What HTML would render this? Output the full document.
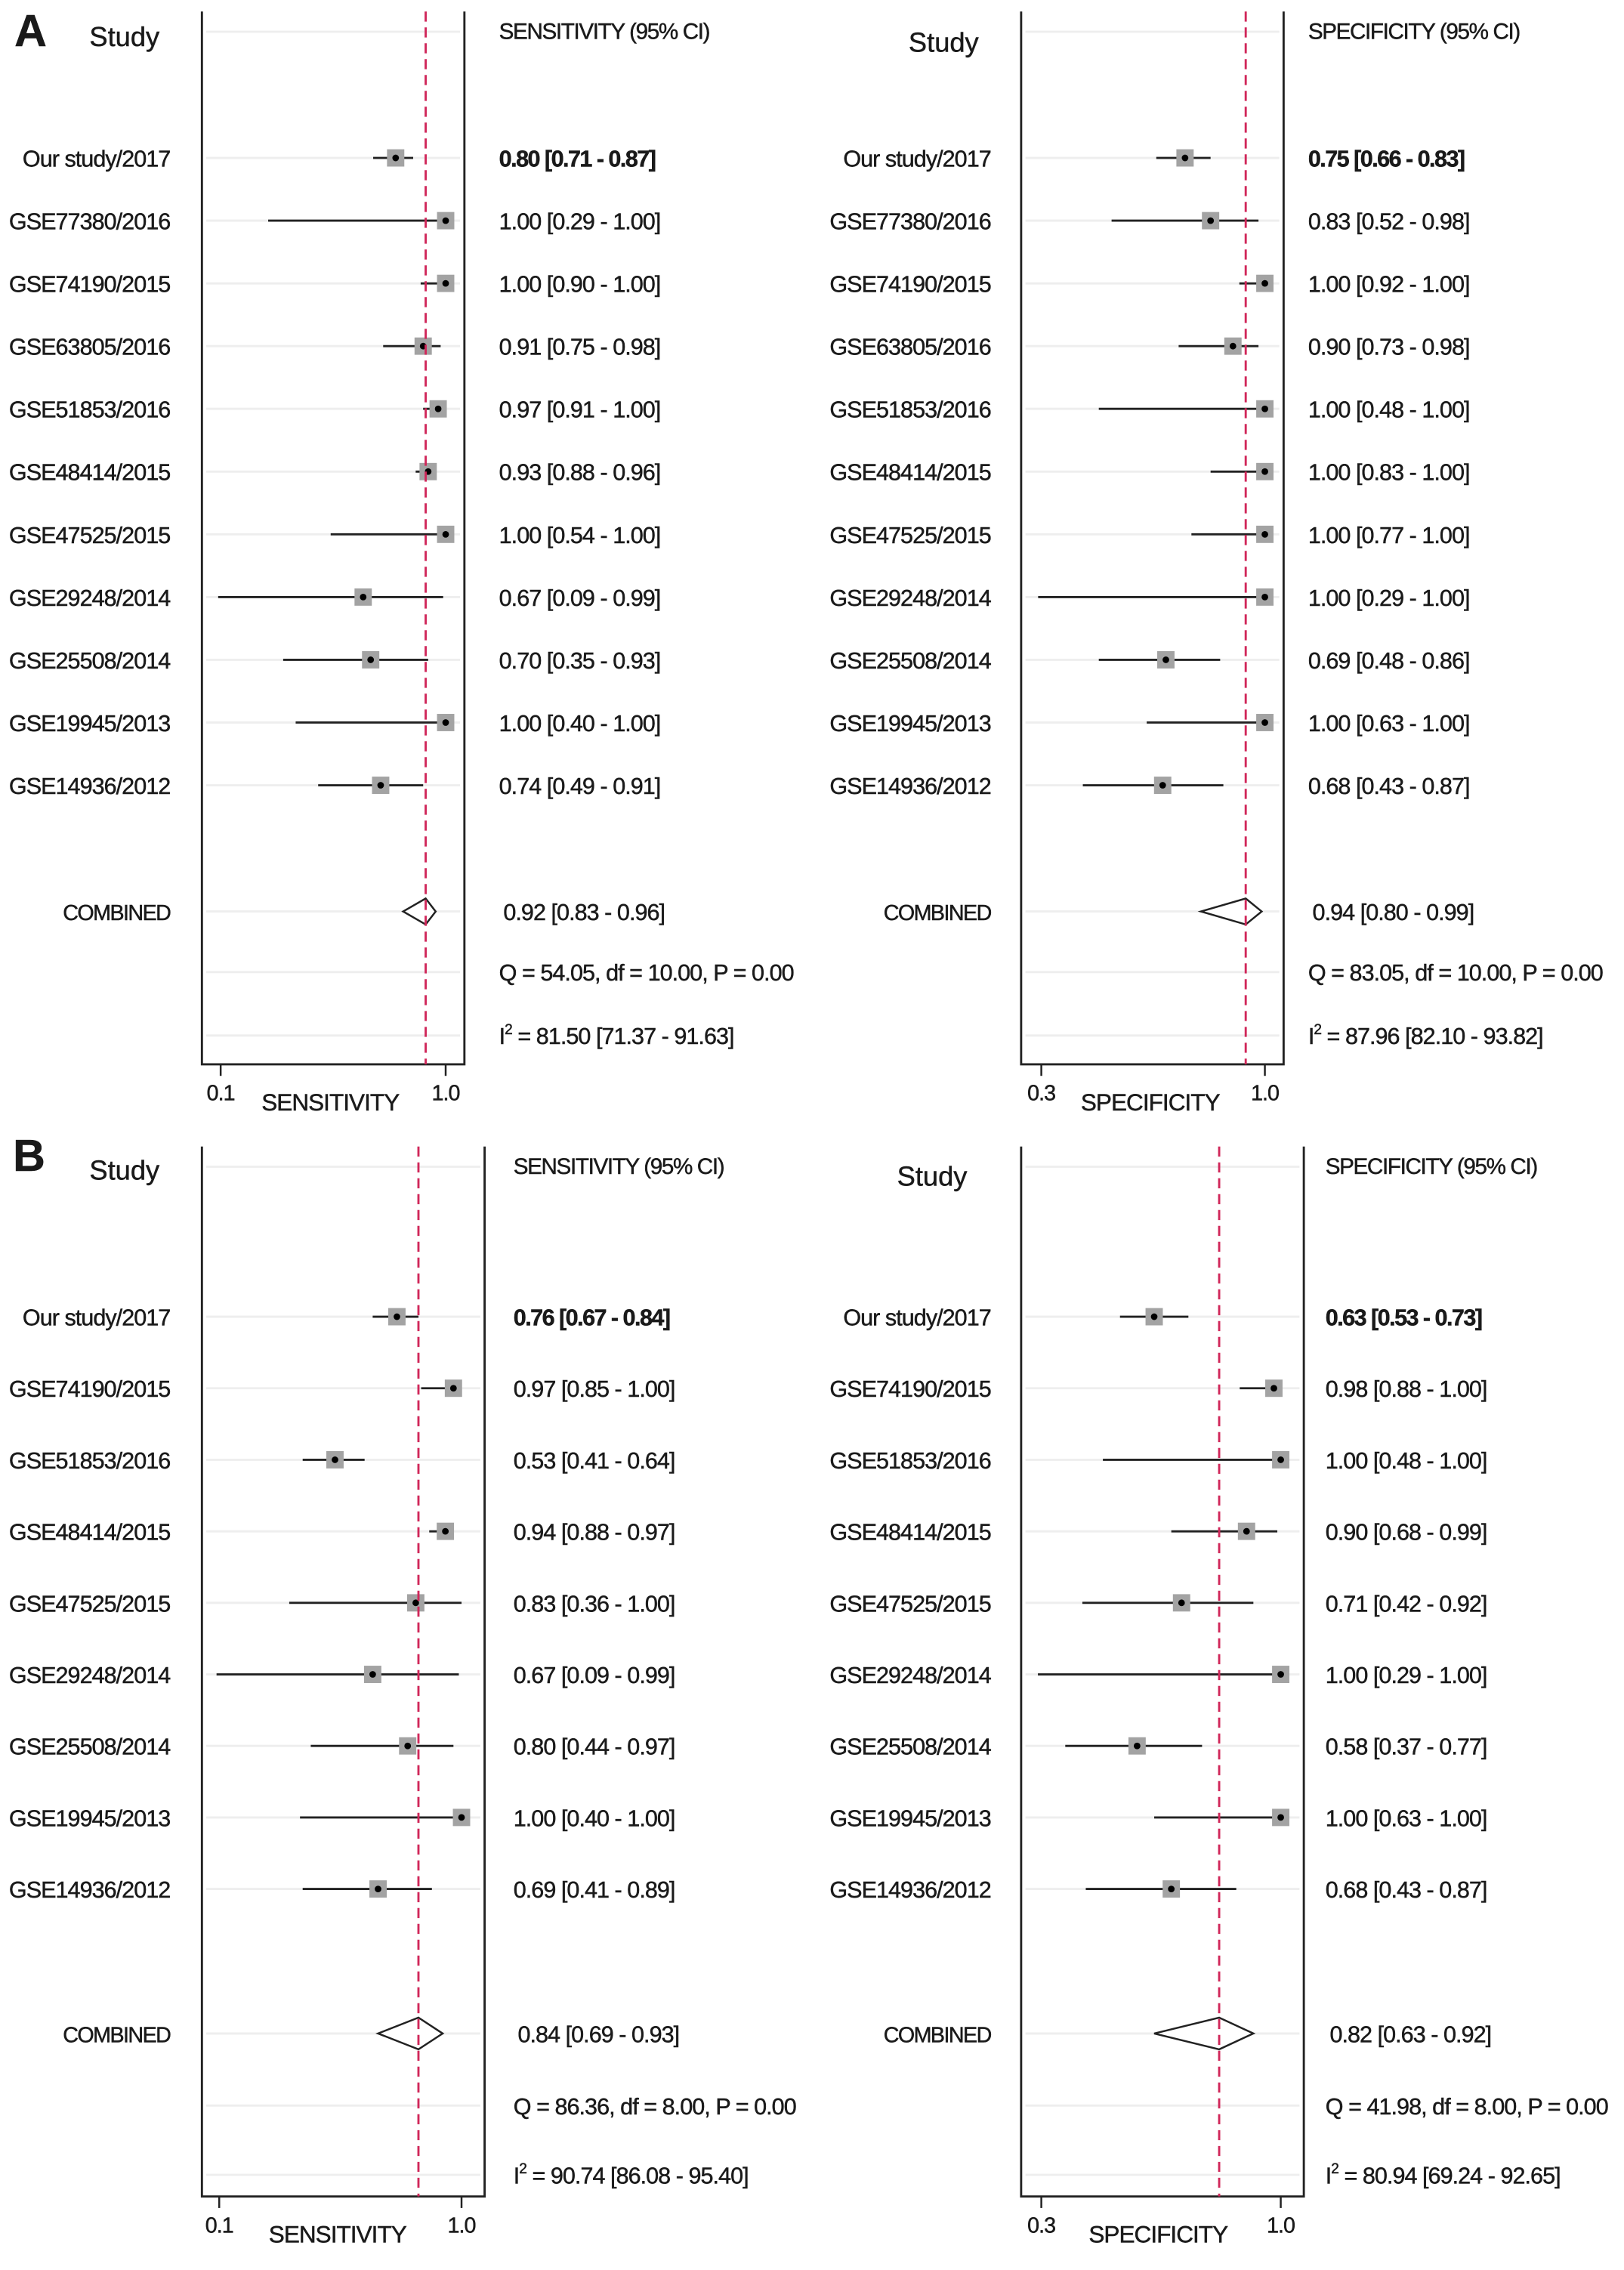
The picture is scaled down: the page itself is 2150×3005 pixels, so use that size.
<!DOCTYPE html>
<html><head><meta charset="utf-8"><style>
html,body{margin:0;padding:0;background:#fff}
svg{display:block}
text{font-family:"Liberation Sans",Arial,sans-serif;fill:#1a1a1a;stroke:#1a1a1a;stroke-width:0.25}
</style></head><body>
<svg id="fig" width="2150" height="3005" viewBox="0 0 1126 1574" preserveAspectRatio="none" xmlns="http://www.w3.org/2000/svg"></svg>
<script>
const studiesA = ["Our study/2017","GSE77380/2016","GSE74190/2015","GSE63805/2016","GSE51853/2016","GSE48414/2015","GSE47525/2015","GSE29248/2014","GSE25508/2014","GSE19945/2013","GSE14936/2012"];
const sensA = [0.80,1.00,1.00,0.91,0.97,0.93,1.00,0.67,0.70,1.00,0.74];
const sensALo = [0.71,0.29,0.90,0.75,0.91,0.88,0.54,0.09,0.35,0.40,0.49];
const sensAHi = [0.87,1.00,1.00,0.98,1.00,0.96,1.00,0.99,0.93,1.00,0.91];
const specA = [0.75,0.83,1.00,0.90,1.00,1.00,1.00,1.00,0.69,1.00,0.68];
const specALo = [0.66,0.52,0.92,0.73,0.48,0.83,0.77,0.29,0.48,0.63,0.43];
const specAHi = [0.83,0.98,1.00,0.98,1.00,1.00,1.00,1.00,0.86,1.00,0.87];
const combSensA = [0.92,0.83,0.96];
const combSpecA = [0.94,0.80,0.99];
const studiesB = ["Our study/2017","GSE74190/2015","GSE51853/2016","GSE48414/2015","GSE47525/2015","GSE29248/2014","GSE25508/2014","GSE19945/2013","GSE14936/2012"];
const sensB = [0.76,0.97,0.53,0.94,0.83,0.67,0.80,1.00,0.69];
const sensBLo = [0.67,0.85,0.41,0.88,0.36,0.09,0.44,0.40,0.41];
const sensBHi = [0.84,1.00,0.64,0.97,1.00,0.99,0.97,1.00,0.89];
const specB = [0.63,0.98,1.00,0.90,0.71,1.00,0.58,1.00,0.68];
const specBLo = [0.53,0.88,0.48,0.68,0.42,0.29,0.37,0.63,0.43];
const specBHi = [0.73,1.00,1.00,0.99,0.92,1.00,0.77,1.00,0.87];
const combSensB = [0.84,0.69,0.93];
const combSpecB = [0.82,0.63,0.92];
const statsText = ["Q = 54.05, df = 10.00, P = 0.00","Q = 83.05, df = 10.00, P = 0.00","Q = 86.36, df = 8.00, P = 0.00","Q = 41.98, df = 8.00, P = 0.00"];
const i2Text = ["= 81.50 [71.37 - 91.63]","= 87.96 [82.10 - 93.82]","= 90.74 [86.08 - 95.40]","= 80.94 [69.24 - 92.65]"];
const tickLabelsSens = ["0.1","1.0"];
const tickLabelsSpec = ["0.3","1.0"];

const NS="http://www.w3.org/2000/svg";
const svg=document.getElementById('fig');
function mk(tag,attrs,parent){const e=document.createElementNS(NS,tag);for(const k in attrs)e.setAttribute(k,attrs[k]);(parent||svg).appendChild(e);return e;}
function txt(s,x,y,opts,parent){const t=mk('text',Object.assign({x:x,y:y,'font-size':16,'letter-spacing':'-0.5'},opts||{}),parent);t.textContent=s;return t;}
const f2=v=>v.toFixed(2);

function panel(o){
  const g=mk('g',{});
  
  
  const sx=v=>o.x0+(v-o.v0)/(o.v1-o.v0)*(o.x1-o.x0);
  const rowY=i=>o.rowTop+i*o.rowStep;
  const gl=[o.top+14].concat(o.studies.map((s,i)=>rowY(i)),[o.combY,o.qY,o.iY]);
  gl.forEach(y=>{const l=mk('line',{x1:o.left+3,x2:o.right-3,y1:y,y2:y,stroke:'#eeeeee','stroke-width':1.5},g);
    });
  const box=mk('path',{d:`M${o.left},${o.top}V${o.bottom}H${o.right}V${o.top}`,fill:'none',stroke:'#222','stroke-width':1.5},g);
  
  [o.v0,o.v1].forEach((v,k)=>{
    const t=mk('line',{x1:sx(v),x2:sx(v),y1:o.bottom,y2:o.bottom+8,stroke:'#222','stroke-width':1.3},g);
    
    const tl=txt(o.ticks[k],sx(v),o.bottom+25,{'text-anchor':'middle','font-size':15},g);
    
  });
  const at=txt(o.axisTitle,(sx(o.v0)+sx(o.v1))/2-2,o.bottom+32,{'text-anchor':'middle','font-size':16.5},g);
  
  const st=txt('Study',o.studyX,o.studyY,{'font-size':19,'letter-spacing':'0'},g);
  
  const hd=txt(o.header,o.valX,o.top+19,{'font-size':15.5,'letter-spacing':'-0.7'},g);
  
  o.studies.forEach((s,i)=>{
    const y=rowY(i);
    const lb=txt(s,o.labelX,y+6,{'text-anchor':'end'},g);
    
    const ci=mk('line',{x1:sx(o.lo[i]),x2:sx(o.hi[i]),y1:y,y2:y,stroke:'#222','stroke-width':1.5},g);
    
    const sz=12;
    const sq=mk('rect',{x:sx(o.est[i])-sz/2,y:y-sz/2,width:sz,height:sz,fill:'#a3a3a3'},g);
    
    const dt=mk('circle',{cx:sx(o.est[i]),cy:y,r:2.3,fill:'#000'},g);
    
    const vt=txt(`${f2(o.est[i])} [${f2(o.lo[i])} - ${f2(o.hi[i])}]`,o.valX,y+6,{'font-weight':i===0?'bold':'normal','letter-spacing':i===0?'-0.8':'-0.5'},g);
    
  });
  const c=o.comb, cy=o.combY, h=o.diaH;
  const cl=txt('COMBINED',o.labelX,cy+6,{'text-anchor':'end','font-size':15,'letter-spacing':'-0.8'},g);
  
  const dm=mk('polygon',{points:`${sx(c[1])},${cy} ${sx(c[0])},${cy-h} ${sx(c[2])},${cy} ${sx(c[0])},${cy+h}`,fill:'#fff',stroke:'#222','stroke-width':1.3},g);
  
  const cv=txt(`${f2(c[0])} [${f2(c[1])} - ${f2(c[2])}]`,o.valX+3,cy+6,{},g);
  
  const qt=txt(o.q,o.valX,o.qY+6,{},g);
  
  const it=txt('',o.valX,o.iY+6,{},g);
  
  const t1=mk('tspan',{},it);t1.textContent='I';
  const t2=mk('tspan',{dy:-7,'font-size':10},it);t2.textContent='2';
  const t3=mk('tspan',{dy:7},it);t3.textContent=' '+o.i2;
  const rl=mk('line',{x1:sx(c[0]),x2:sx(c[0]),y1:o.top,y2:o.bottom,stroke:'#d0275a','stroke-width':1.5,'stroke-dasharray':'7,4'},g);
  
}

const la=txt('A',10,32,{'font-size':31,'font-weight':'bold','letter-spacing':'0'});

const lbB=txt('B',9,812,{'font-size':31,'font-weight':'bold','letter-spacing':'0'});


panel({name:'panel-a-sensitivity',studies:studiesA,est:sensA,lo:sensALo,hi:sensAHi,comb:combSensA,q:statsText[0],i2:i2Text[0],ticks:tickLabelsSens,
  left:140,right:322,top:8,bottom:738,x0:153,x1:309,v0:0.1,v1:1.0,rowTop:109.5,rowStep:43.5,combY:632,qY:674,iY:718,diaH:9,
  labelX:118,valX:346,studyX:62,studyY:32,header:'SENSITIVITY (95% CI)',axisTitle:'SENSITIVITY'});
panel({name:'panel-a-specificity',studies:studiesA,est:specA,lo:specALo,hi:specAHi,comb:combSpecA,q:statsText[1],i2:i2Text[1],ticks:tickLabelsSpec,
  left:708,right:890,top:8,bottom:738,x0:722,x1:877,v0:0.3,v1:1.0,rowTop:109.5,rowStep:43.5,combY:632,qY:674,iY:718,diaH:9,
  labelX:687,valX:907,studyX:630,studyY:36,header:'SPECIFICITY (95% CI)',axisTitle:'SPECIFICITY'});
panel({name:'panel-b-sensitivity',studies:studiesB,est:sensB,lo:sensBLo,hi:sensBHi,comb:combSensB,q:statsText[2],i2:i2Text[2],ticks:tickLabelsSens,
  left:140,right:336,top:795,bottom:1523,x0:152,x1:320,v0:0.1,v1:1.0,rowTop:913,rowStep:49.6,combY:1410,qY:1460,iY:1508,diaH:11,
  labelX:118,valX:356,studyX:62,studyY:818,header:'SENSITIVITY (95% CI)',axisTitle:'SENSITIVITY'});
panel({name:'panel-b-specificity',studies:studiesB,est:specB,lo:specBLo,hi:specBHi,comb:combSpecB,q:statsText[3],i2:i2Text[3],ticks:tickLabelsSpec,
  left:708,right:904,top:795,bottom:1523,x0:722,x1:888,v0:0.3,v1:1.0,rowTop:913,rowStep:49.6,combY:1410,qY:1460,iY:1508,diaH:11,
  labelX:687,valX:919,studyX:622,studyY:822,header:'SPECIFICITY (95% CI)',axisTitle:'SPECIFICITY'});
</script>
</body></html>
